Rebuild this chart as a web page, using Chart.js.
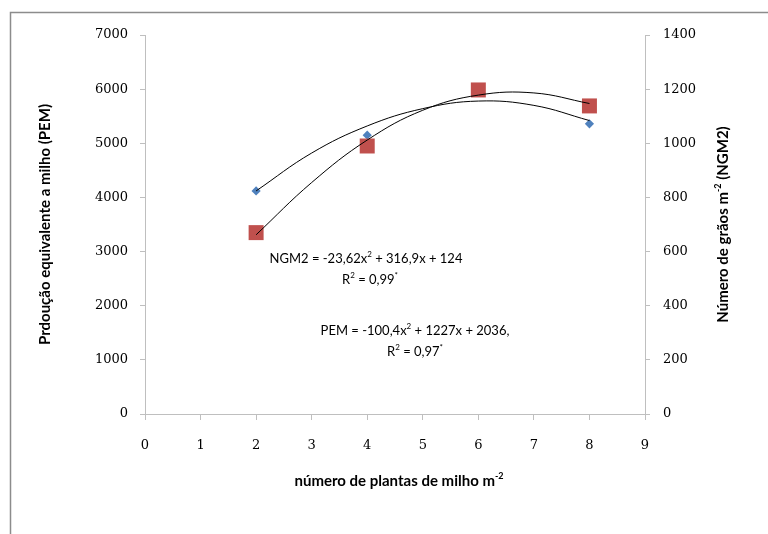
<!DOCTYPE html>
<html>
<head>
<meta charset="utf-8">
<script src="https://cdn.jsdelivr.net/npm/chart.js@4"></script>
<style>
  html, body { margin: 0; padding: 0; background: #fff; }
</style>
</head>
<body>
<canvas id="chart" width="768" height="534"></canvas>
<script>
// pontos observados
const plantas = [2, 4, 6, 8];
const pem = [4120, 5150, 6000, 5360];
const ngm2 = [670, 990, 1197, 1138];

// linhas de tendência
const curvaX = [2, 3, 4, 5, 6, 7, 8];
const curvaPem = [4120, 4820, 5320, 5640, 5780, 5700, 5420];
const curvaNgm2 = [662, 855, 1012, 1122, 1178, 1186, 1147];

const eixoGray = "#bfbfbf";
const tickFont = { family: "DejaVu Serif", size: 13 };

function toPoints(xs, ys) {
  return xs.map((x, i) => ({ x: x, y: ys[i] }));
}

// desenha texto com partes sobrescritas, centrado em (cx, cy)
function drawRuns(ctx, runs, cx, cy, size, weight) {
  const fontOf = (sup) =>
    `${weight} ${sup ? Math.round(size * 0.62) : size}px Lato`;
  let total = 0;
  runs.forEach((r) => {
    ctx.font = fontOf(r[1]);
    total += ctx.measureText(r[0]).width;
  });
  let x = cx - total / 2;
  ctx.textAlign = "left";
  ctx.textBaseline = "middle";
  runs.forEach((r) => {
    ctx.font = fontOf(r[1]);
    ctx.fillText(r[0], x, r[1] ? cy - size * 0.35 : cy);
    x += ctx.measureText(r[0]).width;
  });
}

const extras = {
  id: "extras",
  beforeDraw(chart) {
    const ctx = chart.ctx;
    ctx.save();
    ctx.fillStyle = "#fff";
    ctx.fillRect(0, 0, chart.width, chart.height);
    ctx.strokeStyle = "#8c8c8c";
    ctx.lineWidth = 1.5;
    ctx.beginPath();
    ctx.moveTo(10.5, chart.height);
    ctx.lineTo(10.5, 12.5);
    ctx.lineTo(chart.width, 12.5);
    ctx.stroke();
    ctx.restore();
  },
  afterDraw(chart) {
    const ctx = chart.ctx;
    const a = chart.chartArea;
    ctx.save();
    ctx.fillStyle = "#000";

    // título do eixo x
    drawRuns(ctx, [["número de plantas de milho m"], ["-2", true]],
      (a.left + a.right) / 2 + 4, a.bottom + 67, 15, "bold");

    // título do eixo direito
    ctx.save();
    ctx.translate(a.right + 78, (a.top + a.bottom) / 2);
    ctx.rotate(-Math.PI / 2);
    drawRuns(ctx, [["Número de grãos m"], ["-2", true], [" (NGM2)"]], 0, 0, 15, "bold");
    ctx.restore();

    // equações
    drawRuns(ctx, [["NGM2 = -23,62x"], ["2", true], [" + 316,9x + 124"]],
      a.left + 221, a.top + 224, 13, "normal");
    drawRuns(ctx, [["R"], ["2", true], [" = 0,99"], ["*", true]],
      a.left + 225, a.top + 245, 13, "normal");
    drawRuns(ctx, [["PEM = -100,4x"], ["2", true], [" + 1227x + 2036,"]],
      a.left + 270, a.top + 296, 13, "normal");
    drawRuns(ctx, [["R"], ["2", true], [" = 0,97"], ["*", true]],
      a.left + 270, a.top + 317, 13, "normal");
    ctx.restore();
  },
};

const data = {
  datasets: [
    {
      label: "tendência NGM2",
      data: toPoints(curvaX, curvaNgm2),
      yAxisID: "y2",
      showLine: true,
      pointRadius: 0,
      borderColor: "#000",
      borderWidth: 1,
      tension: 0.4,
    },
    {
      label: "tendência PEM",
      data: toPoints(curvaX, curvaPem),
      yAxisID: "y",
      showLine: true,
      pointRadius: 0,
      borderColor: "#000",
      borderWidth: 1,
      tension: 0.4,
    },
    {
      label: "NGM2",
      data: toPoints(plantas, ngm2),
      yAxisID: "y2",
      pointStyle: "rect",
      pointRadius: 10.6,
      backgroundColor: "#c0504d",
      borderColor: "#c0504d",
      borderWidth: 0,
    },
    {
      label: "PEM",
      data: toPoints(plantas, pem),
      yAxisID: "y",
      pointStyle: "rectRot",
      pointRadius: 4.6,
      backgroundColor: "#4f81bd",
      borderColor: "#4f81bd",
      borderWidth: 0,
    },
  ],
};

const options = {
  responsive: false,
  animation: false,
  layout: { padding: { top: 35, left: 0, right: 0, bottom: 0 } },
  plugins: {
    legend: { display: false },
    tooltip: { enabled: false },
  },
  scales: {
    x: {
      type: "linear",
      min: 0,
      max: 9,
      grid: { drawOnChartArea: false, tickLength: 6, color: eixoGray },
      border: { color: eixoGray },
      ticks: { stepSize: 1, font: tickFont, color: "#000", padding: 18 },
      afterFit: (s) => { s.height = 120; },
    },
    y: {
      position: "left",
      min: 0,
      max: 7000,
      grid: { drawOnChartArea: false, tickLength: 5, color: eixoGray },
      border: { color: eixoGray },
      ticks: {
        stepSize: 1000,
        font: tickFont,
        color: "#000",
        padding: 12,
        callback: (v) => String(v),
      },
      title: {
        display: true,
        text: "Prdoução equivalente a milho (PEM)",
        font: { family: "Lato", size: 15, weight: "bold" },
        color: "#000",
        padding: { top: 36, bottom: 0 },
      },
      afterFit: (s) => { s.width = 145; },
    },
    y2: {
      position: "right",
      min: 0,
      max: 1400,
      grid: { drawOnChartArea: false, tickLength: 5, color: eixoGray },
      border: { color: eixoGray },
      ticks: {
        stepSize: 200,
        font: tickFont,
        color: "#000",
        padding: 13,
        callback: (v) => String(v),
      },
      afterFit: (s) => { s.width = 123; },
    },
  },
};

const ctx = document.getElementById("chart").getContext("2d");
new Chart(ctx, { type: "scatter", data: data, options: options, plugins: [extras] });
</script>
</body>
</html>
